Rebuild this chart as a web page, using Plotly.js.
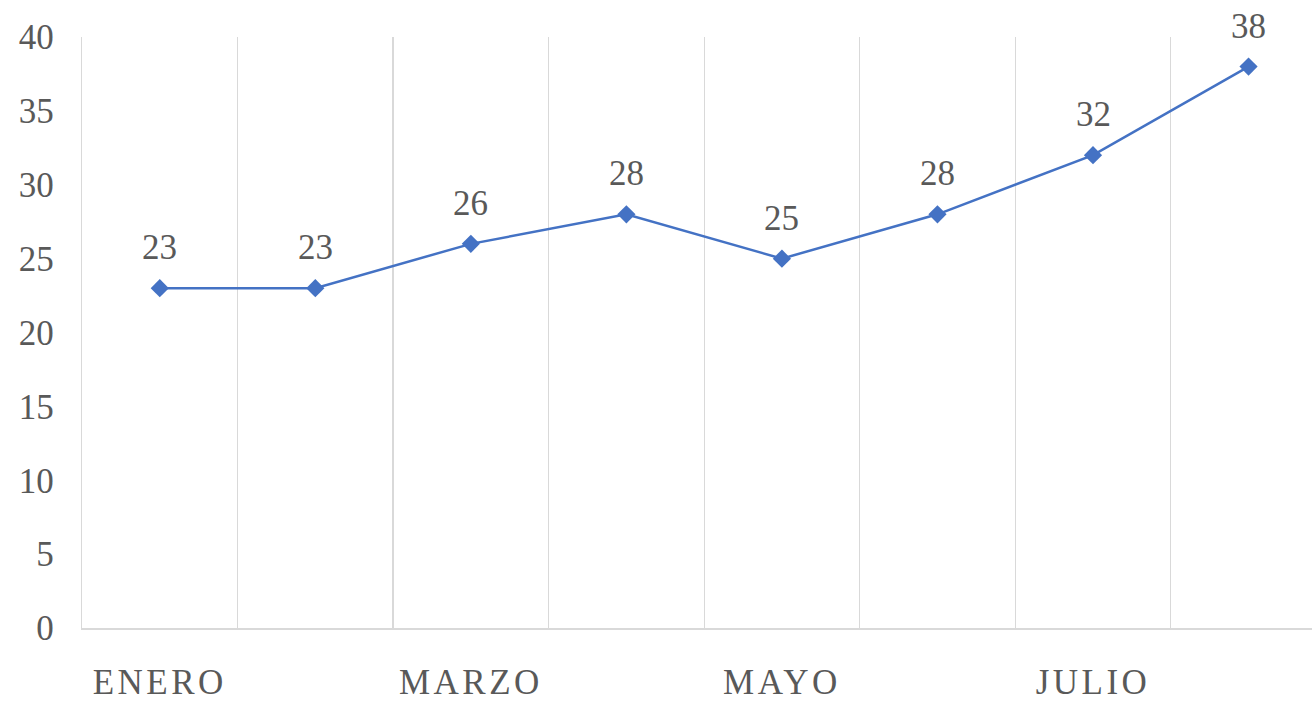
<!DOCTYPE html>
<html>
<head>
<meta charset="utf-8">
<script src="https://cdn.plot.ly/plotly-3.0.1.min.js"></script>
<style>
html,body{margin:0;padding:0;background:#fff;}
#chart{width:1312px;height:701px;}
.xtick text{letter-spacing:3.5px;}
</style>
</head>
<body>
<div id="chart"></div>
<script>
const months = ['ENERO','FEBRERO','MARZO','ABRIL','MAYO','JUNIO','JULIO','AGOSTO'];
const values = [23, 23, 26, 28, 25, 28, 32, 38];
const shownLabels = ['ENERO','MARZO','MAYO','JULIO'];
const yTicks = [0,5,10,15,20,25,30,35,40];

const xIdx = months.map((m,i)=>i);
const shownIdx = shownLabels.map(l=>months.indexOf(l));
const boundaries = months.map((m,i)=>i-0.5);

const trace = {
  x: xIdx,
  y: values,
  mode: 'lines+markers',
  line: {color: '#4472C4', width: 2.5},
  marker: {symbol: 'diamond', size: 14, color: '#4472C4'},
  cliponaxis: false,
  hoverinfo: 'skip'
};

const labels = values.map((v,i)=>({
  x: i, y: v, xref: 'x', yref: 'y',
  text: String(v), showarrow: false,
  yanchor: 'bottom', xanchor: 'center', yshift: 19,
  font: {family: 'Liberation Serif', size: 35, color: '#595959'}
}));

const layout = {
  width: 1312, height: 701,
  margin: {l: 82, r: 0, t: 37, b: 73},
  paper_bgcolor: '#fff', plot_bgcolor: '#fff',
  showlegend: false,
  font: {family: 'Liberation Serif', color: '#595959'},
  annotations: labels,
  xaxis: {
    type: 'linear',
    range: [-0.5, 7.408],
    tickmode: 'array',
    tickvals: shownIdx,
    ticktext: shownLabels,
    showgrid: false,
    zeroline: false,
    showline: true,
    linecolor: '#d9d9d9',
    linewidth: 1.5,
    ticks: '',
    ticklabelstandoff: 22,
    tickfont: {family: 'Liberation Serif', size: 35, color: '#595959'},
    minor: {tickmode: 'array', tickvals: boundaries, showgrid: true, gridcolor: '#d9d9d9', gridwidth: 1.3, ticks: ''}
  },
  yaxis: {
    range: [0, 40],
    tickmode: 'array',
    tickvals: yTicks,
    showgrid: false,
    zeroline: false,
    showline: true,
    linecolor: '#d9d9d9',
    linewidth: 1.3,
    ticks: '',
    ticklabelstandoff: 20,
    tickfont: {family: 'Liberation Serif', size: 35, color: '#595959'}
  }
};

Plotly.newPlot('chart', [trace], layout, {displayModeBar: false, staticPlot: true});
</script>
</body>
</html>
